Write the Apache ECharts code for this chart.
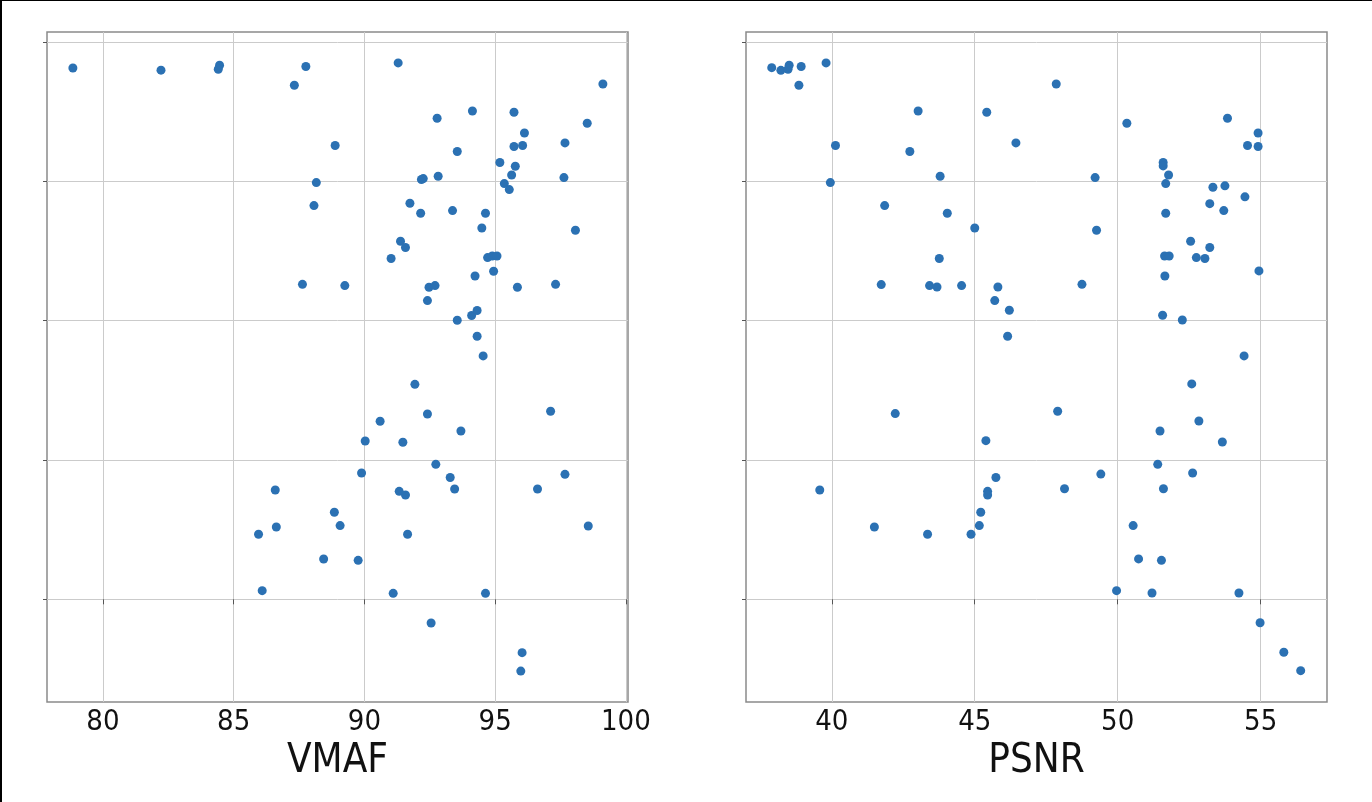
<!DOCTYPE html>
<html>
<head>
<meta charset="utf-8" />
<title>VMAF / PSNR</title>
<script src="https://cdn.jsdelivr.net/npm/echarts@6/dist/echarts.min.js"></script>
<style>
  html,
  body {
    margin: 0;
    padding: 0;
    background: #fff;
  }
  #chart {
    width: 1372px;
    height: 802px;
    box-sizing: border-box;
    border-left: 2px solid #000;
    border-top: 1px solid #000;
  }
</style>
</head>
<body>
<div id="chart"></div>
<script>
// VMAF panel
const vmafX = [
  78.85, 82.22, 84.46, 84.41, 87.76, 87.32, 88.88, 88.16, 88.07, 87.63,
  91.29, 99.12, 92.78, 94.13, 95.72, 98.52, 96.12, 95.72, 96.05, 97.67,
  93.55, 95.18, 95.77, 95.63, 92.18, 92.25, 92.82, 97.63, 95.35, 95.54,
  91.74, 92.15, 93.37, 94.63, 94.49, 98.07, 91.38, 91.57, 91.02, 94.71,
  94.89, 95.07, 94.94, 94.23, 89.25, 92.47, 92.7, 95.85, 97.31, 92.41,
  93.55, 94.1, 94.31, 94.31, 94.54, 91.93, 92.41, 90.6, 93.69, 90.03,
  91.47, 97.12, 92.73, 89.89, 93.28, 93.45, 91.33, 91.57, 88.85, 89.07,
  91.65, 89.76, 91.1, 94.63, 92.55, 96.62, 97.67, 98.56, 96.03, 95.98,
  86.59, 86.63, 85.95, 88.44, 86.09,
];
const vmafY = [
  3.814, 3.798, 3.833, 3.805, 3.824, 3.69, 3.257, 2.991, 2.826, 2.261,
  3.85, 3.699, 3.453, 3.505, 3.496, 3.417, 3.347, 3.25, 3.257, 3.276,
  3.214, 3.135, 3.108, 3.046, 3.013, 3.02, 3.037, 3.027, 2.984, 2.941,
  2.843, 2.771, 2.79, 2.771, 2.665, 2.649, 2.57, 2.525, 2.446, 2.453,
  2.464, 2.464, 2.355, 2.321, 2.252, 2.24, 2.252, 2.24, 2.261, 2.144,
  2.003, 2.037, 2.073, 1.888, 1.747, 1.543, 1.33, 1.278, 1.208, 1.136,
  1.127, 1.35, 0.969, 0.907, 0.874, 0.792, 0.775, 0.749, 0.625, 0.529,
  0.467, 0.28, 0.043, 0.043, -0.17, 0.792, 0.897, 0.526, -0.383, -0.515,
  0.785, 0.519, 0.467, 0.289, 0.062,
];

// PSNR panel
const psnrX = [
  37.9, 38.22, 38.51, 38.47, 38.93, 38.85, 39.8, 43.02, 45.42, 46.44,
  40.13, 42.73, 43.79, 39.95, 41.85, 44.04, 45.0, 43.76, 41.73, 43.42,
  43.68, 44.54, 45.81, 45.7, 46.21, 46.15, 47.85, 50.32, 53.84, 54.91,
  54.54, 54.91, 51.59, 51.59, 51.78, 49.21, 51.68, 53.33, 53.75, 54.45,
  53.22, 53.71, 51.68, 49.26, 52.55, 53.22, 51.64, 51.8, 52.75, 53.05,
  54.94, 51.65, 48.75, 51.57, 52.26, 54.42, 42.22, 45.39, 45.74, 45.45,
  45.45, 39.58, 45.21, 45.16, 41.49, 43.35, 44.87, 52.59, 47.9, 52.84,
  51.48, 53.66, 51.4, 49.41, 52.62, 48.14, 51.6, 50.54, 50.73, 51.53,
  49.96, 51.2, 54.24, 54.98, 55.81, 56.4,
];
const psnrY = [
  3.816, 3.797, 3.833, 3.805, 3.824, 3.69, 3.85, 3.505, 3.496, 3.276,
  3.257, 3.214, 3.037, 2.991, 2.826, 2.771, 2.665, 2.446, 2.259, 2.252,
  2.242, 2.252, 2.242, 2.144, 2.075, 1.888, 3.699, 3.417, 3.453, 3.347,
  3.257, 3.25, 3.135, 3.111, 3.046, 3.027, 2.984, 2.958, 2.968, 2.889,
  2.84, 2.79, 2.771, 2.649, 2.57, 2.525, 2.464, 2.464, 2.453, 2.446,
  2.357, 2.321, 2.261, 2.039, 2.005, 1.747, 1.333, 1.139, 0.874, 0.775,
  0.749, 0.785, 0.625, 0.529, 0.519, 0.467, 0.467, 1.546, 1.35, 1.28,
  1.208, 1.129, 0.969, 0.899, 0.907, 0.794, 0.794, 0.529, 0.29, 0.28,
  0.062, 0.045, 0.045, -0.168, -0.38, -0.512,
];

const vmafTicks = [80, 85, 90, 95, 100];
const psnrTicks = [40, 45, 50, 55];
const yTicks = [0, 1, 2, 3, 4];

const fontFamily = "'DejaVu Sans Condensed', 'DejaVu Sans', sans-serif";
const dotColor = "#2b71b3";
const frameColor = "#8a8a8a";
const gridColor = "#cbcbcb";

function zip(xs, ys) {
  return xs.map((x, i) => [x, ys[i]]);
}

function makeXAxis(index, name, ticks, min, max) {
  return {
    type: "value",
    gridIndex: index,
    name: name,
    nameLocation: "middle",
    nameGap: 37,
    nameTextStyle: {
      fontFamily: fontFamily,
      fontSize: 40,
      color: "#111",
    },
    min: min,
    max: max,
    axisLine: { show: false },
    axisTick: {
      show: true,
      length: 5,
      customValues: ticks,
      lineStyle: { color: "#555" },
    },
    axisLabel: {
      customValues: ticks,
      margin: 6,
      fontFamily: fontFamily,
      fontSize: 29,
      color: "#111",
    },
    splitLine: {
      show: true,
      lineStyle: { color: gridColor, width: 1 },
    },
  };
}

function makeYAxis(index) {
  return {
    type: "value",
    gridIndex: index,
    min: -0.737,
    max: 4.072,
    axisLine: { show: false },
    axisTick: {
      show: true,
      length: 4,
      customValues: yTicks,
      lineStyle: { color: "#555" },
    },
    axisLabel: { show: false, customValues: yTicks },
    splitLine: {
      show: true,
      lineStyle: { color: gridColor, width: 1 },
    },
  };
}

const chart = echarts.init(document.getElementById("chart"), null, {
  renderer: "canvas",
});

chart.setOption({
  animation: false,
  backgroundColor: "#fff",
  grid: [
    {
      left: 45,
      top: 31,
      width: 581,
      height: 670,
      show: true,
      borderColor: frameColor,
      borderWidth: 1.5,
    },
    {
      left: 744,
      top: 31,
      width: 581,
      height: 670,
      show: true,
      borderColor: frameColor,
      borderWidth: 1.5,
    },
  ],
  xAxis: [
    makeXAxis(0, "VMAF", vmafTicks, 77.86, 100.08),
    makeXAxis(1, "PSNR", psnrTicks, 37.0, 57.32),
  ],
  yAxis: [makeYAxis(0), makeYAxis(1)],
  series: [
    {
      type: "scatter",
      xAxisIndex: 0,
      yAxisIndex: 0,
      symbolSize: 9,
      itemStyle: { color: dotColor, opacity: 1 },
      data: zip(vmafX, vmafY),
    },
    {
      type: "scatter",
      xAxisIndex: 1,
      yAxisIndex: 1,
      symbolSize: 9,
      itemStyle: { color: dotColor, opacity: 1 },
      data: zip(psnrX, psnrY),
    },
  ],
});
</script>
</body>
</html>
